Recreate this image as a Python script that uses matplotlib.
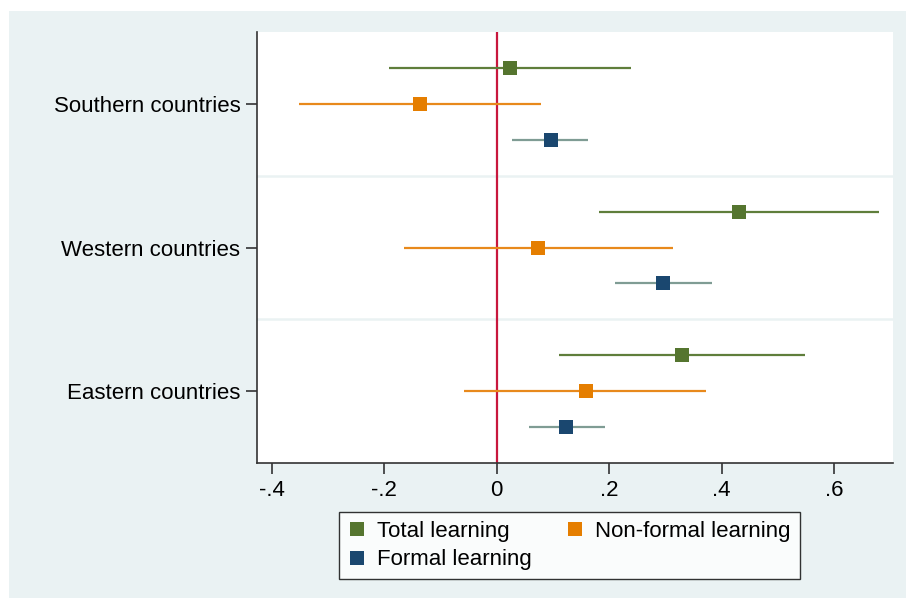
import numpy as np
import matplotlib.pyplot as plt
from matplotlib.lines import Line2D
from matplotlib.patches import Rectangle

plt.rcParams['font.family'] = ['Liberation Sans', 'DejaVu Sans']

regions = ["Eastern countries", "Western countries", "Southern countries"]
series = ["Total learning", "Non-formal learning", "Formal learning"]

# point estimates and 95% CI bounds, one value per region (Eastern, Western, Southern)
total_est = [0.330, 0.430, 0.024]
total_lo = [0.111, 0.182, -0.192]
total_hi = [0.548, 0.679, 0.239]

nonformal_est = [0.158, 0.074, -0.137]
nonformal_lo = [-0.058, -0.165, -0.352]
nonformal_hi = [0.372, 0.314, 0.078]

formal_est = [0.124, 0.296, 0.096]
formal_lo = [0.057, 0.210, 0.028]
formal_hi = [0.193, 0.383, 0.162]

xticks = [-0.4, -0.2, 0, 0.2, 0.4, 0.6]
xticklabels = ["-.4", "-.2", "0", ".2", ".4", ".6"]

bg = "#eaf2f3"
styles = {
    "Total learning": dict(marker="#55752f", line="#5f7e3b", offset=1),
    "Non-formal learning": dict(marker="#e57e00", line="#e8891c", offset=0),
    "Formal learning": dict(marker="#1a476f", line="#7f9c94", offset=-1),
}
data = {
    "Total learning": (total_est, total_lo, total_hi),
    "Non-formal learning": (nonformal_est, nonformal_lo, nonformal_hi),
    "Formal learning": (formal_est, formal_lo, formal_hi),
}

fig = plt.figure(figsize=(9.06, 5.98), dpi=100, facecolor="white")
fig.patches.append(Rectangle((9 / 906, 0), 1, (598 - 11) / 598,
                             transform=fig.transFigure, facecolor=bg,
                             edgecolor="none", zorder=-10))

ax = fig.add_axes([257 / 906, (598 - 463) / 598, (892.7 - 257) / 906, (463 - 32) / 598])
ax.set_facecolor("white")

centers = np.arange(len(regions)) * 4.0
# a slightly wide square, like the Stata markers
sq = [(-1.1, -1), (1.1, -1), (1.1, 1), (-1.1, 1), (-1.1, -1)]

for name in series:
    est, lo, hi = data[name]
    st = styles[name]
    y = centers + st["offset"]
    ax.hlines(y, lo, hi, color=st["line"], lw=1.6, zorder=3)
    ax.plot(est, y, ls="none", marker=sq, ms=10.5, color=st["marker"],
            markeredgewidth=0, zorder=4)

ax.axvline(0, color="#c8173d", lw=1.6, zorder=2)
for sep in centers[:-1] + 2:
    ax.axhline(sep, color=bg, lw=1.8, zorder=1)

ax.set_xlim(-0.426, 0.704)
ax.set_ylim(-2, 10)
ax.set_xticks(xticks)
ax.set_xticklabels(xticklabels)
ax.set_yticks(centers)
ax.set_yticklabels(regions)

for s in ["top", "right"]:
    ax.spines[s].set_visible(False)
for s in ["left", "bottom"]:
    ax.spines[s].set_color("#333333")
    ax.spines[s].set_linewidth(1.2)
ax.tick_params(axis="both", length=8, width=1.2, color="#333333",
               labelsize=16, pad=4)

handles = [Line2D([], [], ls="none", marker="s", ms=9.5, markeredgewidth=0,
                  color=styles[n]["marker"]) for n in series]
order = [0, 2, 1]
leg = fig.legend([handles[i] for i in order], [series[i] for i in order],
                 ncol=2, loc="upper left", bbox_to_anchor=(339.3 / 906, (598 - 511.7) / 598),
                 fontsize=16, frameon=True, fancybox=False, edgecolor="black",
                 handlelength=0.75, handletextpad=0.55, columnspacing=1.55,
                 borderpad=0.4, labelspacing=0.35, borderaxespad=0)
leg.get_frame().set_linewidth(1.0)

fig.savefig("out.png", dpi=100, facecolor="white")
